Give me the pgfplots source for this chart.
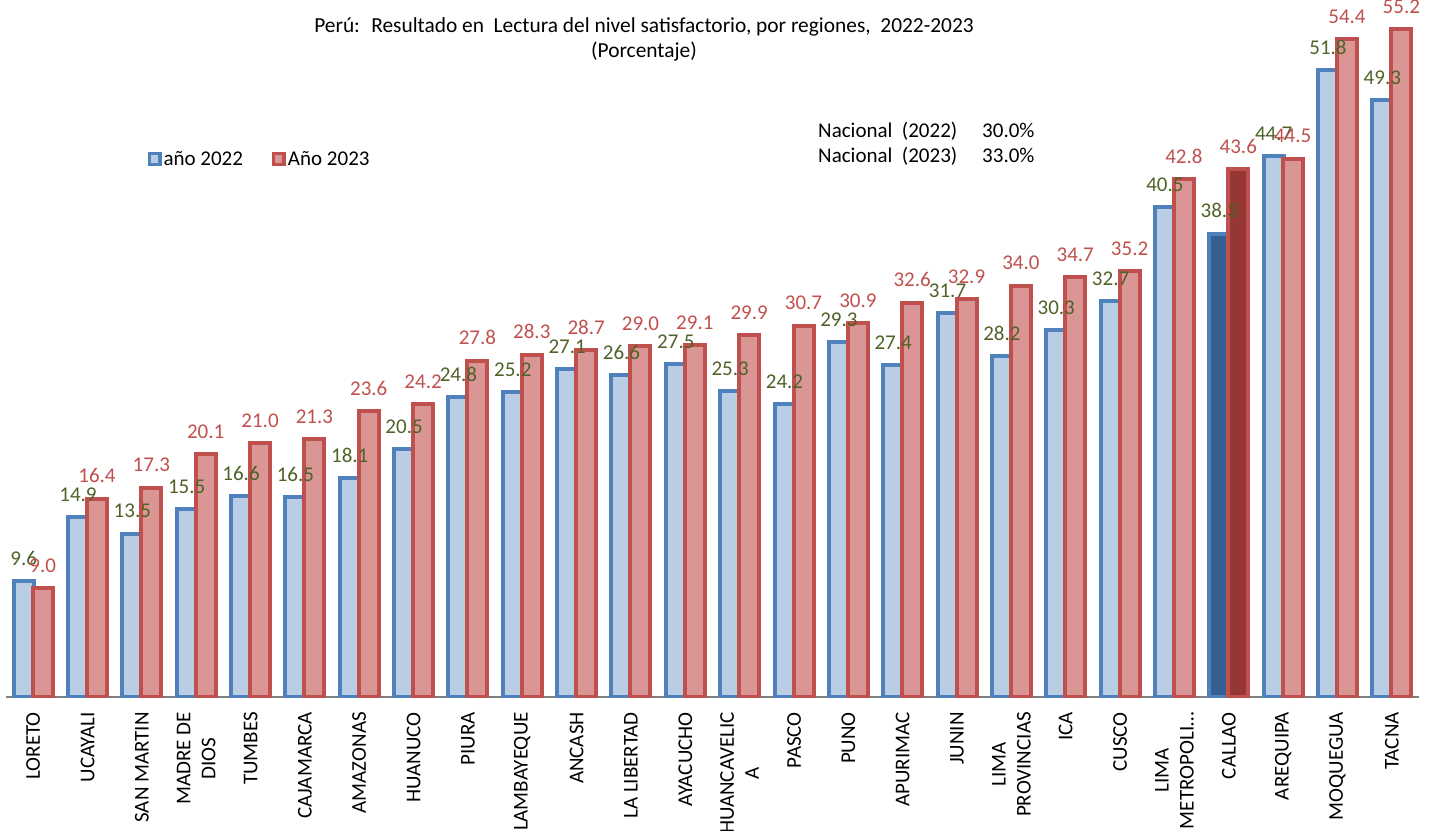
\documentclass[border=0pt]{standalone}
\usepackage{fontspec}
\setmainfont{Carlito}
\usepackage{pgfplots}
\pgfplotsset{compat=1.18}
\definecolor{azul}{HTML}{4F81BD}
\definecolor{azulclaro}{HTML}{B9CDE5}
\definecolor{azuloscuro}{HTML}{376092}
\definecolor{rojo}{HTML}{C0504D}
\definecolor{rojoclaro}{HTML}{D99694}
\definecolor{rojooscuro}{HTML}{953735}
\definecolor{verde}{HTML}{4F6228}

\begin{document}
\begin{tikzpicture}[font=\fontsize{21}{25}\selectfont]
\useasboundingbox (0,0) rectangle (1429pt,830pt);
\clip (0,0) rectangle (1429pt,830pt);
\begin{axis}[
    at={(6pt,133pt)}, anchor=south west,
    scale only axis, width=1413pt, height=697pt,
    ybar, bar width=20pt,
    xmin=-0.5, xmax=25.5, ymin=0, ymax=57.6,
    axis x line*=bottom, axis y line=none,
    x axis line style={gray, line width=2pt},
    xtick={0,...,25},
    xticklabels={LORETO, UCAYALI, SAN MARTIN, {MADRE DE\\DIOS}, TUMBES, CAJAMARCA,
        AMAZONAS, HUANUCO, PIURA, LAMBAYEQUE, ANCASH, LA LIBERTAD, AYACUCHO,
        {HUANCAVELIC\\A}, PASCO, PUNO, APURIMAC, JUNIN, {LIMA\\PROVINCIAS}, ICA,
        CUSCO, {LIMA\\METROPOLI…}, CALLAO, AREQUIPA, MOQUEGUA, TACNA},
    major tick length=0pt,
    xticklabel style={rotate=90, anchor=east, align=center, inner sep=0pt},
    xticklabel shift=15pt,
    ytick=\empty,
    /pgf/number format/assume math mode=true,
    legend style={draw=none, fill=none, at={(0.100,0.772)}, anchor=west,
        legend columns=2, inner sep=0pt,
        /tikz/every even column/.append style={column sep=27pt}},
    leg/.style={legend image code/.code={\draw[##1, line width=3.5pt] (0pt,-5.5pt) rectangle (10.5pt,5.5pt);}},
    etiq/.style={nodes near coords={\pgfmathprintnumber[fixed,fixed zerofill,precision=1]{\pgfplotspointmeta}},
        every node near coord/.append style={text=#1, inner sep=0pt, yshift=13.5pt}},
]

% 2022
\addplot[draw=azul, fill=azulclaro, line width=4pt, bar shift=-9.5pt, leg, etiq=verde] coordinates {
    (0,9.6) (1,14.9) (2,13.5) (3,15.5) (4,16.6) (5,16.5) (6,18.1) (7,20.5)
    (8,24.8) (9,25.2) (10,27.1) (11,26.6) (12,27.5) (13,25.3) (14,24.2) (15,29.3)
    (16,27.4) (17,31.7) (18,28.2) (19,30.3) (20,32.7) (21,40.5) (22,38.3) (23,44.7)
    (24,51.8) (25,49.3)
};
% Callao resaltado
\addplot[draw=azul, fill=azuloscuro, line width=4pt, bar shift=-9.5pt, forget plot] coordinates {(22,38.3)};

% 2023
\addplot[draw=rojo, fill=rojoclaro, line width=4pt, bar shift=9.5pt, leg, etiq=rojo] coordinates {
    (0,9.0) (1,16.4) (2,17.3) (3,20.1) (4,21.0) (5,21.3) (6,23.6) (7,24.2)
    (8,27.8) (9,28.3) (10,28.7) (11,29.0) (12,29.1) (13,29.9) (14,30.7) (15,30.9)
    (16,32.6) (17,32.9) (18,34.0) (19,34.7) (20,35.2) (21,42.8) (22,43.6) (23,44.5)
    (24,54.4) (25,55.2)
};
\addplot[draw=rojo, fill=rojooscuro, line width=4pt, bar shift=9.5pt, forget plot] coordinates {(22,43.6)};

\legend{año 2022, Año 2023}
\end{axis}

% titulo y nacional
\node[anchor=base, inner sep=0pt, font=\fontsize{21.4}{25}\selectfont] at (644pt,797pt) {Perú:~ Resultado en~ Lectura del nivel satisfactorio, por regiones,~ 2022-2023};
\node[anchor=base, inner sep=0pt, font=\fontsize{21.4}{25}\selectfont] at (644pt,772pt) {(Porcentaje)};
\node[anchor=base west, inner sep=0pt] at (818pt,692pt) {Nacional~ (2022)};
\node[anchor=base west, inner sep=0pt] at (982pt,692pt) {30.0\%};
\node[anchor=base west, inner sep=0pt] at (818pt,667pt) {Nacional~ (2023)};
\node[anchor=base west, inner sep=0pt] at (982pt,667pt) {33.0\%};
\end{tikzpicture}
\end{document}
